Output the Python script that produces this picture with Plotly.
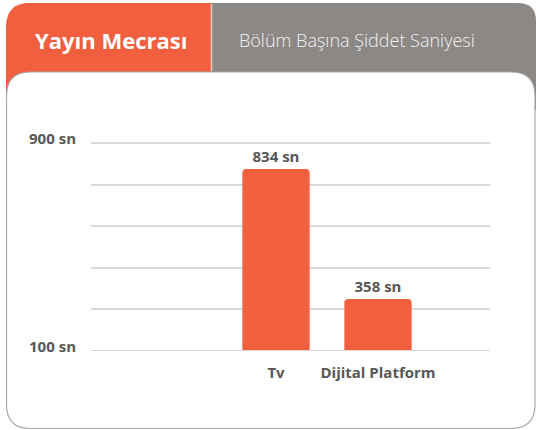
import plotly.graph_objects as go
import numpy as np

# ---- data ----
categories = ["Tv", "Dijital Platform"]
values = [834, 358]
value_suffix = " sn"
y_tick_labels = ["100 sn", "", "", "", "", "900 sn"]
header_left = "Yayın Mecrası"
header_right = "Bölüm Başına Şiddet Saniyesi"

# ---- layout constants ----
W, H = 536, 430
ORANGE = "#F15F3F"
GRAY = "#8C8886"
TEXT = "#575757"
GRID = "#D9D9D9"
FONT = "Open Sans"

def px(x):
    return x / W

def py(y):
    return 1 - y / H

# y-axis geometry (pixels) and scale
G_TOP, G_BOT = 143, 351          # top / bottom gridline pixel rows
V_TOP, V_BOT = 929.0, 168.0      # axis values at those gridlines
scale = (G_BOT - G_TOP) / (V_TOP - V_BOT)
PAD = 3
D_TOP, D_BOT = G_TOP - PAD, G_BOT
y_range = [V_BOT, V_TOP + PAD / scale]
tickvals = list(np.linspace(V_BOT, V_TOP, len(y_tick_labels)))

# x-axis geometry
X_LEFT, X_RIGHT = 91, 490
C0, STEP = 276, 102               # pixel centre of first category and spacing
x_range = [(X_LEFT - C0) / STEP, (X_RIGHT - C0) / STEP]

fig = go.Figure()
fig.add_trace(go.Bar(
    x=categories, y=values,
    marker=dict(color=ORANGE, cornerradius=4, line=dict(width=0)),
    width=0.66,
    text=[f"{v}{value_suffix}" for v in values],
    textposition="outside",
    textfont=dict(family=FONT, size=15, color=TEXT, weight="bold"),
    cliponaxis=True,
    hoverinfo="skip",
))

def P(x, y):
    return f"{px(x):.5f},{py(y):.5f}"

shapes = []
# header orange tab
r = 24
shapes.append(dict(type="path", xref="paper", yref="paper", layer="below",
    path=f"M {P(6,110)} L {P(6,3+r)} Q {P(6,3)} {P(6+r,3)} L {P(211,3)} L {P(211,110)} Z",
    fillcolor=ORANGE, line=dict(width=0)))
# header gray tab
r2 = 18
shapes.append(dict(type="path", xref="paper", yref="paper", layer="below",
    path=f"M {P(211,110)} L {P(211,3)} L {P(536-r2,3)} Q {P(536,3)} {P(536,3+r2)} L {P(536,110)} Z",
    fillcolor=GRAY, line=dict(width=0)))
# separator
shapes.append(dict(type="line", xref="paper", yref="paper", layer="below",
    x0=px(211.5), x1=px(211.5), y0=py(4), y1=py(71),
    line=dict(color="#E6C8BE", width=1.5)))
# white panel
x0, y0, x1, y1, rr = 6.5, 72, 535, 428.5, 24
shapes.append(dict(type="path", xref="paper", yref="paper", layer="below",
    path=(f"M {P(x0,y0+rr)} Q {P(x0,y0)} {P(x0+rr,y0)} L {P(x1-rr,y0)} Q {P(x1,y0)} {P(x1,y0+rr)} "
          f"L {P(x1,y1-rr)} Q {P(x1,y1)} {P(x1-rr,y1)} L {P(x0+rr,y1)} Q {P(x0,y1)} {P(x0,y1-rr)} Z"),
    fillcolor="white", line=dict(color="#A8A8A8", width=1.2)))
# bottom baseline gridline drawn over the bars
shapes.append(dict(type="line", xref="x domain", yref="y", layer="above",
    x0=0, x1=1, y0=V_BOT, y1=V_BOT, line=dict(color=GRID, width=2)))

annotations = [
    dict(xref="paper", yref="paper", x=px(111), y=py(40), text=header_left, showarrow=False,
         xanchor="center", yanchor="middle",
         font=dict(family=FONT, size=22, color="white", weight="bold")),
    dict(xref="paper", yref="paper", x=px(357), y=py(40), text=header_right, showarrow=False,
         xanchor="center", yanchor="middle",
         font=dict(family=FONT, size=18, color="#F2F2F2", weight=300)),
]

fig.update_layout(
    width=W, height=H,
    margin=dict(l=0, r=0, t=0, b=0, pad=0),
    paper_bgcolor="white", plot_bgcolor="rgba(0,0,0,0)",
    showlegend=False,
    shapes=shapes, annotations=annotations,
    xaxis=dict(domain=[px(X_LEFT), px(X_RIGHT)], range=x_range, type="category",
               automargin=False,
               showgrid=False, zeroline=False, showline=False, ticks="",
               ticklabelstandoff=11,
               tickfont=dict(family=FONT, size=15, color=TEXT, weight="bold")),
    yaxis=dict(domain=[py(D_BOT), py(D_TOP)], range=y_range,
               automargin=False,
               tickvals=tickvals, ticktext=y_tick_labels,
               showgrid=True, gridcolor=GRID, gridwidth=2,
               zeroline=False, showline=False, ticks="",
               ticklabelstandoff=14, ticklabelshift=-4,
               tickfont=dict(family=FONT, size=15, color=TEXT, weight="bold")),
)

fig.write_html("out.html", config={"displayModeBar": False, "staticPlot": True},
               post_script="document.body.style.margin='0';document.body.style.padding='0';")
